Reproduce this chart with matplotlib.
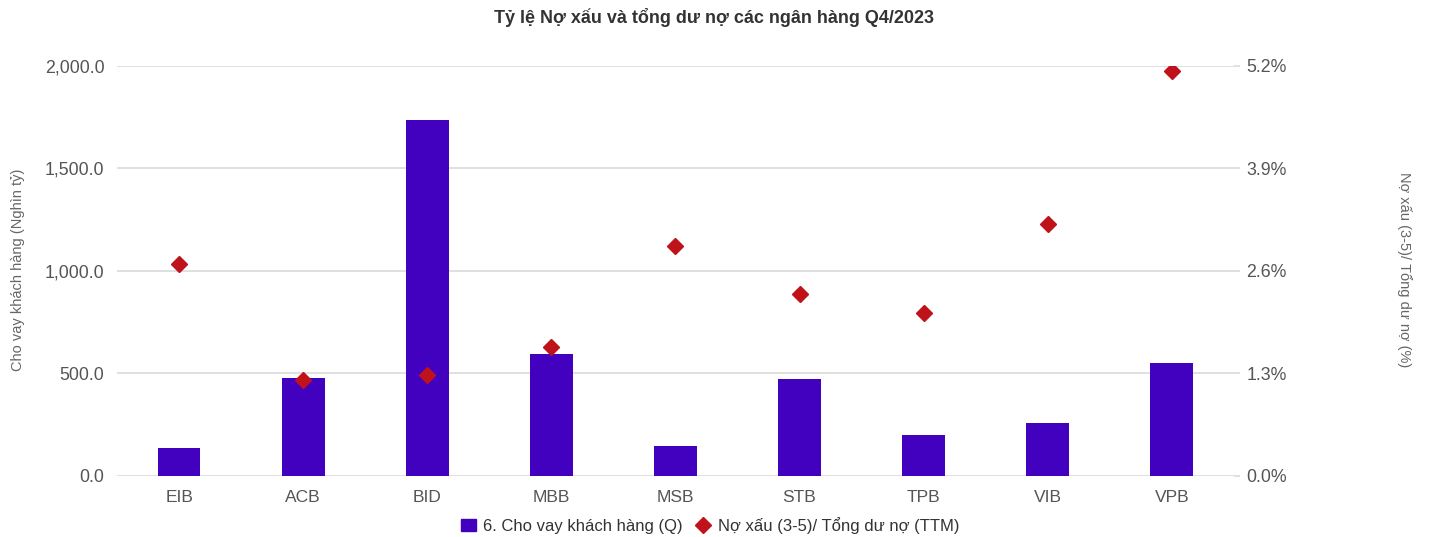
import matplotlib.pyplot as plt
import numpy as np
from matplotlib.ticker import FuncFormatter, FixedLocator

# Dữ liệu
banks = ['EIB', 'ACB', 'BID', 'MBB', 'MSB', 'STB', 'TPB', 'VIB', 'VPB']
loans = [136, 479, 1735, 595, 145, 474, 200, 260, 549]
npl = [2.69, 1.22, 1.28, 1.64, 2.92, 2.31, 2.07, 3.20, 5.14]

left_ticks = [0, 500, 1000, 1500, 2000]
right_ticks = [0, 1.3, 2.6, 3.9, 5.2]

bar_color = '#4200BF'
dot_color = '#C0121A'
grid_color = '#DADADA'
txt_color = '#555555'

plt.rcParams['font.family'] = ['Liberation Sans', 'DejaVu Sans']

fig = plt.figure(figsize=(14.29, 5.37), dpi=100)
ax = fig.add_axes([0.0819, 0.1136, 0.7815, 0.7635])
ax2 = ax.twinx()

x = np.arange(len(banks))
ax.bar(x, loans, width=0.345, color=bar_color, zorder=2)
ax2.plot(x, npl, linestyle='none', marker='D', ms=8, color=dot_color, zorder=3)

ax.set_xlim(-0.5, len(banks) - 0.5)
ax.set_ylim(0, 2000)
ax2.set_ylim(0, 5.2)
ax.yaxis.set_major_locator(FixedLocator(left_ticks))
ax2.yaxis.set_major_locator(FixedLocator(right_ticks))
ax.yaxis.set_major_formatter(FuncFormatter(lambda v, p: f'{v:,.1f}'))
ax2.yaxis.set_major_formatter(FuncFormatter(lambda v, p: f'{v:.1f}%'))

ax.set_xticks(x)
ax.set_xticklabels(banks)
ax.grid(axis='y', color=grid_color, linewidth=1.2, zorder=0)
ax.set_axisbelow(True)

for a in (ax, ax2):
    for s in a.spines.values():
        s.set_visible(False)
ax.tick_params(axis='x', length=0, pad=10, labelsize=12.5, labelcolor=txt_color)
ax.tick_params(axis='y', length=0, pad=9, labelsize=12.8, labelcolor=txt_color)
ax2.tick_params(axis='y', length=4, width=1.2, color=grid_color, pad=5,
                labelsize=12.8, labelcolor=txt_color)

# nhãn trục
fig.text(0.0125, 0.497, 'Cho vay khách hàng (Nghìn tỷ)', fontsize=10.5, color='#666666',
         rotation=90, ha='center', va='center')
fig.text(0.983, 0.497, 'Nợ xấu (3-5)/ Tổng dư nợ (%)', fontsize=10.5, color='#666666',
         rotation=270, ha='center', va='center')

fig.suptitle('Tỷ lệ Nợ xấu và tổng dư nợ các ngân hàng Q4/2023', x=0.5, y=0.985,
             fontsize=13, fontweight='bold', color='#333333')

h1 = plt.Rectangle((0, 0), 1, 1, color=bar_color)
h2 = plt.Line2D([], [], linestyle='none', marker='D', ms=8, color=dot_color)
fig.legend([h1, h2], ['6. Cho vay khách hàng (Q)', 'Nợ xấu (3-5)/ Tổng dư nợ (TTM)'],
           loc='center', bbox_to_anchor=(0.497, 0.022), ncol=2, frameon=False,
           fontsize=12, handlelength=0.9, handletextpad=0.4, columnspacing=0.8,
           labelcolor='#333333')

fig.savefig('out.png', dpi=100)
